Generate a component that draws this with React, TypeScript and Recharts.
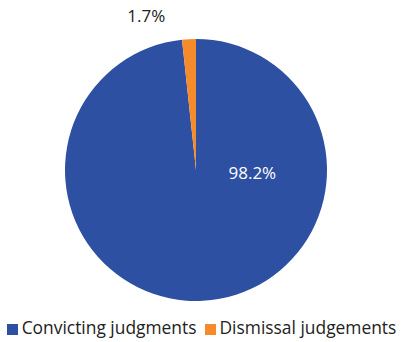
import React from "react";
import { PieChart, Pie, Cell, Legend } from "recharts";

const categories = ["Convicting judgments", "Dismissal judgements"];
const values = [98.2, 1.7];
const labels = ["98.2%", "1.7%"];
const colors = ["#2E50A2", "#F68B2C"];

const data = categories.map((name, i) => ({ name, value: values[i], label: labels[i] }));

const FONT = "'Open Sans', sans-serif";

const renderLabel = (props: any) => {
  const { cx, cy, outerRadius, index } = props;
  if (index === 0) {
    return (
      <text x={cx + outerRadius * 0.43} y={cy + 2} fill="#ffffff" fontSize={17} fontFamily={FONT} textAnchor="middle" dominantBaseline="central">
        {labels[0]}
      </text>
    );
  }
  return (
    <text x={cx - outerRadius * 0.38} y={cy - outerRadius * 1.18} fill="#222222" fontSize={17} fontFamily={FONT} textAnchor="middle" dominantBaseline="central">
      {labels[1]}
    </text>
  );
};

const renderLegend = () => (
  <div style={{ display: "flex", justifyContent: "center", alignItems: "center", fontFamily: FONT, fontSize: 17.4, color: "#222", whiteSpace: "nowrap" }}>
    {categories.map((c, i) => (
      <div key={c} style={{ display: "flex", alignItems: "center", marginLeft: i === 0 ? 0 : 8, flexShrink: 0 }}>
        <span style={{ display: "inline-block", width: 11, height: 11, background: colors[i], marginRight: 4, marginTop: 4 }} />
        <span>{c}</span>
      </div>
    ))}
  </div>
);

export default function App() {
  return (
    <div style={{ position: "absolute", left: 0, top: 0, width: 403, height: 342, background: "#fff" }}>
      <PieChart width={403} height={342} margin={{ top: 0, right: 0, bottom: 0, left: 0 }}>
        <Pie
          data={data}
          dataKey="value"
          nameKey="name"
          cx={196}
          cy={170}
          outerRadius={131}
          startAngle={90}
          endAngle={-270}
          stroke="none"
          labelLine={false}
          label={renderLabel}
          isAnimationActive={false}
        >
          {data.map((d, i) => (
            <Cell key={d.name} fill={colors[i]} />
          ))}
        </Pie>
        <Legend content={renderLegend} wrapperStyle={{ top: 315, left: 0, width: 403 }} />
      </PieChart>
    </div>
  );
}
